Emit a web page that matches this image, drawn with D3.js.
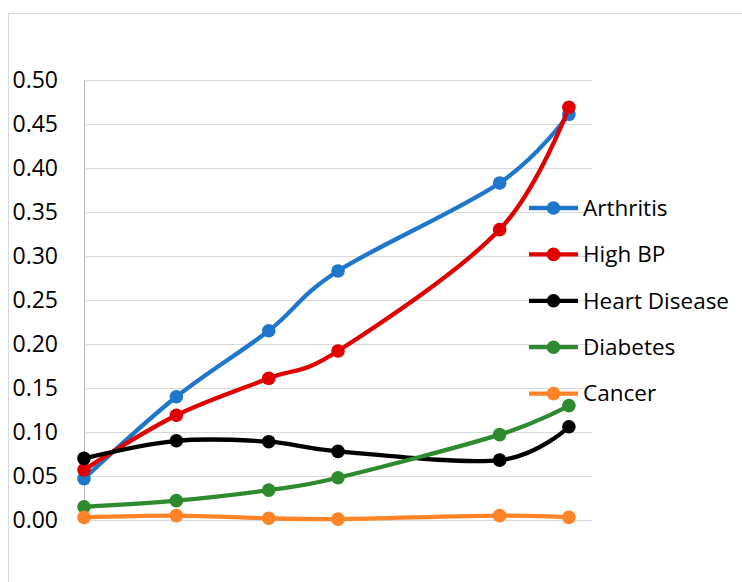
<!DOCTYPE html>
<html>
<head>
<meta charset="utf-8">
<script src="https://cdn.jsdelivr.net/npm/d3@7"></script>
<style>
  html, body { margin: 0; padding: 0; background: #fff; }
  svg { display: block; }
  text { font-family: "Open Sans", "Liberation Sans", sans-serif; fill: #000; }
</style>
</head>
<body>
<svg id="chart" width="742" height="582"></svg>
<script>
// Horizontal positions of the six observations (unevenly spaced)
const xValues = [0, 4, 8, 11, 18, 21];

// Share of population with each condition
const arthritis    = [0.047, 0.140, 0.215, 0.283, 0.383, 0.461];
const highBP       = [0.057, 0.119, 0.161, 0.192, 0.330, 0.469];
const heartDisease = [0.070, 0.090, 0.089, 0.078, 0.068, 0.106];
const diabetes     = [0.015, 0.022, 0.034, 0.048, 0.097, 0.130];
const cancer       = [0.003, 0.005, 0.002, 0.001, 0.005, 0.003];

const seriesNames  = ["Arthritis", "High BP", "Heart Disease", "Diabetes", "Cancer"];
const seriesColors = ["#1f77cc", "#e00000", "#000000", "#2e8a2e", "#ff8327"];
const yTicks = [0, 0.05, 0.10, 0.15, 0.20, 0.25, 0.30, 0.35, 0.40, 0.45, 0.50];

const series = [arthritis, highBP, heartDisease, diabetes, cancer].map((vals, i) => ({
  name: seriesNames[i],
  color: seriesColors[i],
  points: vals.map((v, j) => ({ x: xValues[j], y: v }))
}));

const svg = d3.select("#chart");

// Chart frame
svg.append("rect")
  .attr("x", 8.5).attr("y", 13.5)
  .attr("width", 760).attr("height", 600)
  .attr("fill", "none").attr("stroke", "#d9d9d9");

const plot = { left: 84, right: 592, top: 80, bottom: 520 };

const x = d3.scaleLinear().domain([0, 22]).range([plot.left, plot.right]);
const y = d3.scaleLinear().domain([0, 0.5]).range([plot.bottom, plot.top]);

// Horizontal gridlines
svg.append("g")
  .selectAll("line")
  .data(yTicks)
  .join("line")
  .attr("x1", plot.left).attr("x2", plot.right)
  .attr("y1", d => Math.round(y(d)) + 0.5).attr("y2", d => Math.round(y(d)) + 0.5)
  .attr("stroke", "#d9d9d9").attr("stroke-width", 1);

// Vertical axis line
svg.append("line")
  .attr("x1", plot.left + 0.5).attr("x2", plot.left + 0.5)
  .attr("y1", plot.top).attr("y2", plot.bottom + 1)
  .attr("stroke", "#bfbfbf").attr("stroke-width", 1);

// Y axis tick labels
const yAxis = d3.axisLeft(y).tickValues(yTicks).tickFormat(d3.format(".2f")).tickSize(0).tickPadding(26);
const yAxisG = svg.append("g").attr("transform", `translate(${plot.left},0)`).call(yAxis);
yAxisG.select(".domain").remove();
yAxisG.selectAll("text")
  .style("font-family", "'Open Sans', 'Liberation Sans', sans-serif")
  .style("font-size", "23px")
  .attr("fill", "#000");

// Smoothed series lines
const line = d3.line()
  .x(d => x(d.x))
  .y(d => y(d.y))
  .curve(d3.curveCatmullRom.alpha(0));

const g = svg.append("g");
series.forEach(s => {
  g.append("path")
    .datum(s.points)
    .attr("d", line)
    .attr("fill", "none")
    .attr("stroke", s.color)
    .attr("stroke-width", 4.3)
    .attr("stroke-linecap", "round");
  g.selectAll(null)
    .data(s.points)
    .join("circle")
    .attr("cx", d => x(d.x))
    .attr("cy", d => y(d.y))
    .attr("r", 6.8)
    .attr("fill", s.color);
});

// Legend
const legend = svg.append("g").attr("transform", "translate(529,208)");
const item = legend.selectAll("g")
  .data(series)
  .join("g")
  .attr("transform", (d, i) => `translate(0,${i * 46.4})`);
item.append("line")
  .attr("x1", 0).attr("x2", 49)
  .attr("y1", 0).attr("y2", 0)
  .attr("stroke", d => d.color).attr("stroke-width", 4.3);
item.append("circle")
  .attr("cx", 24.5).attr("cy", 0).attr("r", 6.8)
  .attr("fill", d => d.color);
item.append("text")
  .attr("x", 54).attr("y", 0)
  .attr("dy", "0.35em")
  .style("font-size", "22.5px")
  .text(d => d.name);
</script>
</body>
</html>
